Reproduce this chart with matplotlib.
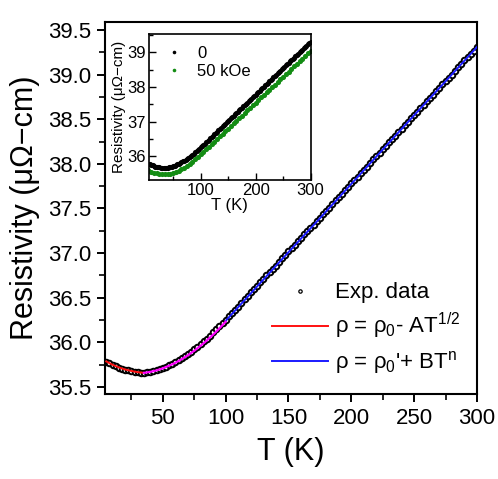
import numpy as np
import matplotlib
matplotlib.use("Agg")
import matplotlib.pyplot as plt
from matplotlib.ticker import MultipleLocator

plt.rcParams['font.family'] = ['Liberation Sans', 'DejaVu Sans']
plt.rcParams['mathtext.fontset'] = 'custom'
plt.rcParams['mathtext.rm'] = 'Liberation Sans'
plt.rcParams['mathtext.it'] = 'Liberation Sans'

# ---- main data (zero field) ----
T_data = np.arange(5.0, 300.01, 2.5)
rho_data = [
    35.78, 35.765, 35.745, 35.73, 35.715, 35.70, 35.69, 35.685, 35.675, 35.67,
    35.665, 35.66, 35.66, 35.665, 35.67, 35.68, 35.69, 35.70, 35.71, 35.725,
    35.74, 35.76, 35.78, 35.80, 35.82, 35.845, 35.87, 35.895, 35.92, 35.95,
    35.98, 36.01, 36.04, 36.075, 36.11, 36.145, 36.18, 36.215, 36.25, 36.29,
    36.325, 36.365, 36.40, 36.44, 36.48, 36.52, 36.56, 36.595, 36.635, 36.67,
    36.71, 36.75, 36.785, 36.825, 36.86, 36.90, 36.94, 36.98, 37.02, 37.055,
    37.095, 37.13, 37.17, 37.21, 37.245, 37.285, 37.32, 37.36, 37.395, 37.435,
    37.47, 37.51, 37.55, 37.59, 37.63, 37.665, 37.705, 37.74, 37.78, 37.82,
    37.855, 37.895, 37.93, 37.97, 38.01, 38.05, 38.09, 38.125, 38.165, 38.20,
    38.24, 38.28, 38.315, 38.355, 38.39, 38.43, 38.47, 38.51, 38.55, 38.585,
    38.625, 38.66, 38.70, 38.74, 38.775, 38.815, 38.85, 38.89, 38.925, 38.965,
    39.00, 39.04, 39.08, 39.12, 39.16, 39.195, 39.235, 39.27, 39.31,
]

# ---- fits ----
T_fit_low = [5, 10, 15, 20, 25, 30, 35]
rho_fit_low = [35.785, 35.748, 35.718, 35.695, 35.678, 35.665, 35.657]
T_fit_mid = [35, 40, 45, 50, 55, 60, 65, 70, 75, 80, 85, 90, 95, 100]
rho_fit_mid = [35.657, 35.668, 35.685, 35.708, 35.737, 35.77, 35.81, 35.855,
               35.905, 35.96, 36.02, 36.085, 36.155, 36.23]
T_fit_high = [100, 125, 150, 175, 200, 225, 250, 275, 300]
rho_fit_high = [36.24, 36.625, 37.01, 37.39, 37.775, 38.16, 38.545, 38.925, 39.31]

# ---- inset: 50 kOe ----
T_50k = np.arange(5.0, 300.01, 5.0)
rho_50k = [
    35.59, 35.555, 35.525, 35.50, 35.485, 35.475, 35.47, 35.475, 35.49, 35.51,
    35.54, 35.58, 35.62, 35.67, 35.72, 35.78, 35.84, 35.91, 35.98, 36.05,
    36.12, 36.195, 36.27, 36.345, 36.42, 36.495, 36.57, 36.645, 36.72, 36.795,
    36.87, 36.945, 37.02, 37.095, 37.17, 37.245, 37.32, 37.395, 37.47, 37.545,
    37.62, 37.695, 37.77, 37.845, 37.92, 37.995, 38.07, 38.145, 38.22, 38.295,
    38.37, 38.445, 38.52, 38.595, 38.67, 38.745, 38.82, 38.895, 38.97, 39.045,
]

W, H = 498, 479
fig = plt.figure(figsize=(W / 100, H / 100), dpi=100)
ax = fig.add_axes([105 / W, 1 - 394 / H, (477 - 105) / W, (394 - 22) / H])

ax.plot(T_data, rho_data, 'o', ms=4.0, mfc='white', mec='black', mew=1.4,
        linestyle='none', label='Exp. data', zorder=2)
ax.plot(T_fit_low, rho_fit_low, '-', color='#ff1010', lw=1.4,
        label='ρ = ρ$_0$- AT$^{1/2}$', zorder=3)
ax.plot(T_fit_high, rho_fit_high, '-', color='#1a1aff', lw=1.4,
        label="ρ = ρ$_0$'+ BT$^{\\mathregular{n}}$", zorder=3)
ax.plot(T_fit_mid, rho_fit_mid, '-', color='#ff00ff', lw=1.6, zorder=3)

ax.set_xlim(4, 300)
ax.set_ylim(35.42, 39.59)
ax.xaxis.set_major_locator(MultipleLocator(50))
ax.xaxis.set_minor_locator(MultipleLocator(25))
ax.yaxis.set_major_locator(MultipleLocator(0.5))
ax.yaxis.set_minor_locator(MultipleLocator(0.25))
ax.yaxis.set_major_formatter(matplotlib.ticker.FormatStrFormatter('%.1f'))
ax.tick_params(which='major', direction='out', length=6, width=1.4,
               labelsize=16, pad=4)
ax.tick_params(which='minor', direction='out', length=4, width=1.2)
ax.tick_params(top=False, right=False)
for s in ax.spines.values():
    s.set_linewidth(1.5)
ax.set_xlabel('T (K)', fontsize=22, labelpad=6)
ax.set_ylabel('Resistivity (μΩ−cm)', fontsize=22, labelpad=6)

leg = ax.legend(loc='upper left', bbox_to_anchor=(0.449, 0.30), frameon=False,
                fontsize=16, handlelength=2.5, handletextpad=0.35,
                labelspacing=0.35, borderpad=0, borderaxespad=0,
                markerscale=0.6)
leg.legend_handles[0].set_markeredgewidth(0.9)

# ---- inset ----
ax2 = fig.add_axes([149 / W, 1 - 180 / H, (310.5 - 149) / W, (180 - 34) / H])
ax2.plot(T_data, rho_data, 'o', ms=3.7, color='black', mew=0,
         linestyle='none', label='0')
ax2.plot(T_50k, np.array(rho_50k), 'o', ms=3.7, color='#138c13', mew=0,
         linestyle='none', label='50 kOe')
ax2.set_xlim(6, 300)
ax2.set_ylim(35.31, 39.53)
ax2.xaxis.set_major_locator(MultipleLocator(100))
ax2.xaxis.set_minor_locator(MultipleLocator(50))
ax2.yaxis.set_major_locator(MultipleLocator(1))
ax2.yaxis.set_minor_locator(MultipleLocator(0.5))
ax2.tick_params(which='major', direction='in', length=5, width=1.0,
                labelsize=12, pad=2)
ax2.tick_params(which='minor', direction='in', length=3, width=1.0)
for s in ax2.spines.values():
    s.set_linewidth(1.2)
ax2.set_xlabel('T (K)', fontsize=12, labelpad=0)
ax2.set_ylabel('Resistivity (μΩ−cm)', fontsize=11, labelpad=1)
ax2.legend(loc='upper left', bbox_to_anchor=(0.02, 1.0), frameon=False,
           fontsize=12, handlelength=1.2, handletextpad=0.8,
           labelspacing=0.2, borderpad=0.2, markerscale=0.7)

fig.savefig('out.png', dpi=100)
